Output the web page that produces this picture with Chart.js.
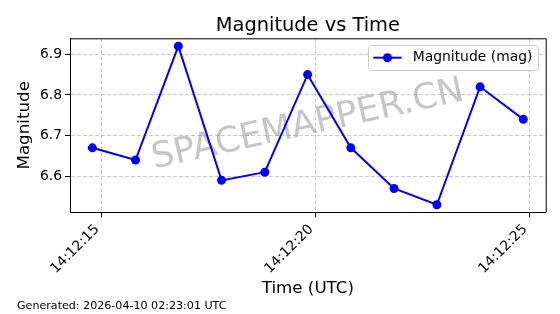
<!DOCTYPE html>
<html>
<head>
<meta charset="utf-8">
<script src="https://cdn.jsdelivr.net/npm/chart.js@4/dist/chart.umd.min.js"></script>
<style>
  html, body { margin: 0; padding: 0; background: #ffffff; }
  #wrap { width: 560px; height: 314px; position: relative; }
</style>
</head>
<body>
<div id="wrap"><canvas id="c" width="560" height="314"></canvas></div>
<script>
// ---- data (seconds after 14:12:00 UTC) ----
const timeSeconds = [14.79, 15.80, 16.80, 17.81, 18.82, 19.82, 20.83, 21.84, 22.84, 23.85, 24.86];
const magnitudes  = [6.67, 6.64, 6.92, 6.59, 6.61, 6.85, 6.67, 6.57, 6.53, 6.82, 6.74];
const xTickSeconds = [15, 20, 25];
const yTickValues  = [6.6, 6.7, 6.8, 6.9];
const titleText  = 'Magnitude vs Time';
const xTitleText = 'Time (UTC)';
const yTitleText = 'Magnitude';
const seriesLabel = 'Magnitude (mag)';
const watermarkText = 'SPACEMAPPER.CN';
const footerText = 'Generated: 2026-04-10 02:23:01 UTC';

const FONT = "'DejaVu Sans', 'Liberation Sans', sans-serif";
const pad2 = n => String(n).padStart(2, '0');
const fmtTime = s => '14:12:' + pad2(Math.round(s));

const decorPlugin = {
  id: 'decor',
  beforeDatasetsDraw(chart) {
    const { ctx, chartArea: a } = chart;
    ctx.save();
    ctx.beginPath();
    ctx.rect(a.left, a.top, a.right - a.left, a.bottom - a.top);
    ctx.clip();
    ctx.translate((a.left + a.right) / 2, (a.top + a.bottom) / 2);
    ctx.rotate(-12.4 * Math.PI / 180);
    ctx.font = '35.5px ' + FONT;
    ctx.fillStyle = 'rgba(128,128,128,0.45)';
    ctx.textAlign = 'center';
    ctx.textBaseline = 'middle';
    ctx.fillText(watermarkText, 0, 0);
    ctx.restore();
  },
  afterDraw(chart) {
    const { ctx, chartArea: a } = chart;
    ctx.save();
    // top/right spines
    ctx.strokeStyle = '#000';
    ctx.lineWidth = 1;
    ctx.beginPath();
    ctx.moveTo(a.left, a.top + 0.5);
    ctx.lineTo(a.right + 0.5, a.top + 0.5);
    ctx.lineTo(a.right + 0.5, a.bottom);
    ctx.stroke();

    // title
    ctx.fillStyle = '#000';
    ctx.font = '19.4px ' + FONT;
    ctx.textAlign = 'center';
    ctx.textBaseline = 'alphabetic';
    ctx.fillText(titleText, (a.left + a.right) / 2, 30.5);

    // footer
    ctx.font = '11.1px ' + FONT;
    ctx.textAlign = 'left';
    ctx.fillText(footerText, 17, 309);

    // legend
    const lx = 368.5, ly = 45.5, lw = 170, lh = 25, r = 3;
    ctx.beginPath();
    ctx.moveTo(lx + r, ly);
    ctx.arcTo(lx + lw, ly, lx + lw, ly + lh, r);
    ctx.arcTo(lx + lw, ly + lh, lx, ly + lh, r);
    ctx.arcTo(lx, ly + lh, lx, ly, r);
    ctx.arcTo(lx, ly, lx + lw, ly, r);
    ctx.closePath();
    ctx.fillStyle = 'rgba(255,255,255,0.8)';
    ctx.fill();
    ctx.strokeStyle = '#cccccc';
    ctx.lineWidth = 1;
    ctx.stroke();
    const cy = 57.7;
    ctx.strokeStyle = '#0000ff';
    ctx.lineWidth = 2;
    ctx.beginPath();
    ctx.moveTo(373.3, cy);
    ctx.lineTo(401.7, cy);
    ctx.stroke();
    ctx.fillStyle = '#0000ff';
    ctx.beginPath();
    ctx.arc(387.5, cy, 4.5, 0, Math.PI * 2);
    ctx.fill();
    ctx.fillStyle = '#000';
    ctx.font = '13.9px ' + FONT;
    ctx.textAlign = 'left';
    ctx.textBaseline = 'middle';
    ctx.fillText(seriesLabel, 412.7, cy);
    ctx.restore();
  }
};

new Chart(document.getElementById('c'), {
  type: 'line',
  data: {
    datasets: [{
      label: seriesLabel,
      data: timeSeconds.map((t, i) => ({ x: t, y: magnitudes[i] })),
      borderColor: '#0000ff',
      backgroundColor: '#0000ff',
      borderWidth: 2,
      pointRadius: 4.5,
      pointHoverRadius: 4.5,
      pointBorderWidth: 0,
      tension: 0
    }]
  },
  options: {
    responsive: false,
    animation: false,
    events: [],
    layout: { padding: { left: 0, right: 14.3, top: 38.3, bottom: 15 } },
    plugins: {
      legend: { display: false },
      title: { display: false },
      tooltip: { enabled: false }
    },
    scales: {
      x: {
        type: 'linear',
        min: 14.269,
        max: 25.383,
        afterBuildTicks: s => { s.ticks = xTickSeconds.map(v => ({ value: v })); },
        afterFit: s => { s.height = 299 - 212.3; },
        ticks: {
          callback: v => fmtTime(v),
          minRotation: 45,
          maxRotation: 45,
          padding: 4,
          labelOffset: -4,
          color: '#000',
          font: { family: FONT, size: 13.9 }
        },
        grid: {
          color: 'rgba(176,176,176,0.7)',
          lineWidth: 1,
          tickLength: 5,
          tickColor: '#000',
          tickWidth: 1,
          tickBorderDash: []
        },
        border: { display: true, color: '#000', width: 1, dash: [4, 2] },
        title: {
          display: true,
          text: xTitleText,
          color: '#000',
          font: { family: FONT, size: 16.7 },
          padding: 0
        }
      },
      y: {
        type: 'linear',
        min: 6.5115,
        max: 6.9393,
        afterBuildTicks: s => { s.ticks = yTickValues.map(v => ({ value: v })); },
        afterFit: s => { s.width = 70; },
        ticks: {
          callback: v => v.toFixed(1),
          padding: 3,
          color: '#000',
          font: { family: FONT, size: 13.9 }
        },
        grid: {
          color: 'rgba(176,176,176,0.7)',
          lineWidth: 1,
          tickLength: 5,
          tickColor: '#000',
          tickWidth: 1,
          tickBorderDash: []
        },
        border: { display: true, color: '#000', width: 1, dash: [4, 2] },
        title: {
          display: true,
          text: yTitleText,
          color: '#000',
          font: { family: FONT, size: 16.7 },
          padding: { top: 14.5, bottom: 0 }
        }
      }
    }
  },
  plugins: [decorPlugin]
});
</script>
</body>
</html>
